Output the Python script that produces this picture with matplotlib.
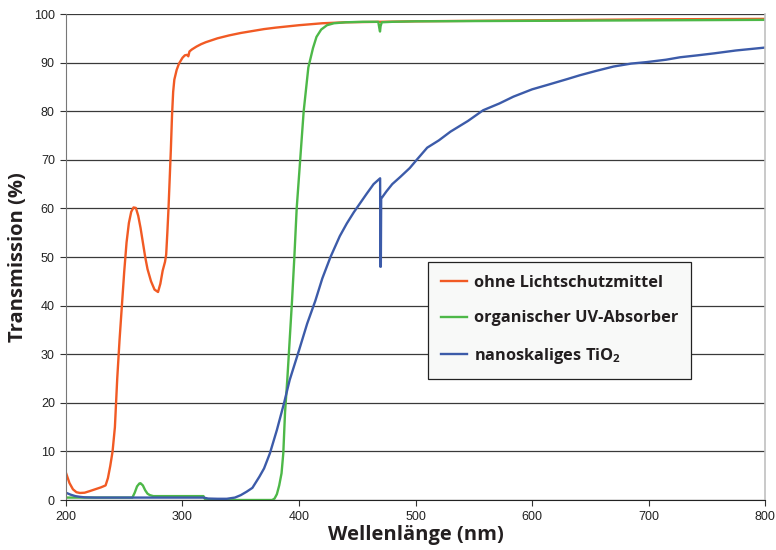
import matplotlib
matplotlib.use("Agg")
import matplotlib.pyplot as plt

# wavelengths (nm) and transmission (%)
wl_orange = [200, 203, 206, 209, 212, 216, 220, 225, 230, 234, 236, 238, 240, 242, 243, 244,
             246, 248, 250, 252, 254, 256, 258, 260, 262, 264, 266, 268, 270, 273, 276, 279,
             281, 283, 285, 286, 287, 288, 289, 290, 291, 292, 293, 295, 297, 300, 302, 304,
             305, 306, 308, 312, 316, 320, 330, 340, 350, 360, 370, 380, 400, 420, 440, 470,
             500, 550, 600, 700, 800]
t_orange = [5.6, 3.5, 2.2, 1.6, 1.45, 1.5, 1.8, 2.2, 2.6, 3.0, 4.5, 7, 10, 15, 20, 25,
            33, 40, 47, 53, 57, 59.3, 60.2, 60.1, 58.5, 56, 53, 50, 47.5, 45, 43.3, 42.8,
            44.5, 47.2, 49, 50.5, 55, 60, 66, 72, 79, 84, 86.5, 88.5, 89.8, 91, 91.5, 91.6,
            91.3, 92.3, 92.7, 93.3, 93.8, 94.2, 95, 95.6, 96.1, 96.5, 96.9, 97.2, 97.7, 98.1,
            98.3, 98.4, 98.5, 98.6, 98.7, 98.9, 99.0]

wl_green = [200, 257, 259, 261, 263, 264, 266, 268, 270, 272, 275, 300, 318, 319, 320, 377,
            379, 381, 383, 385, 386.5, 388, 390, 392, 394, 396, 398, 401, 404, 408, 412, 415,
            419, 424, 430, 440, 455, 468, 469, 469.5, 470, 471, 480, 500, 600, 700, 800]
t_green = [0.5, 0.5, 1.5, 2.8, 3.4, 3.45, 3.0, 2.0, 1.3, 1.0, 0.8, 0.8, 0.8, 0.3, 0, 0,
           0.3, 1.2, 3, 5.5, 9.6, 18, 25, 33, 41, 50, 60, 70, 80, 89, 93, 95.3,
           96.8, 97.7, 98.1, 98.3, 98.4, 98.4, 97.0, 96.4, 97.5, 98.3, 98.4, 98.5, 98.6, 98.7, 98.8]

wl_blue = [200, 204, 208, 212, 216, 225, 250, 280, 300, 318, 322, 330, 338, 345, 350, 355,
           360, 366, 370, 375, 381, 387, 392, 400, 407, 414, 420, 427, 435, 441, 447, 458, 464,
           469.6, 469.8, 470.2, 470.5, 475, 480, 487, 495, 501, 510, 520, 530, 545, 558, 572,
           584, 600, 613, 630, 641, 655, 670, 685, 698, 715, 727, 742, 756, 775, 800]
t_blue = [1.5, 1.1, 0.8, 0.65, 0.55, 0.5, 0.5, 0.5, 0.5, 0.5, 0.3, 0.25, 0.25, 0.5, 1, 1.7,
          2.5, 4.8, 6.5, 9.6, 14.4, 19.8, 24.7, 30.8, 36.3, 41, 45.6, 50, 54.3, 56.9, 59.2, 63, 65,
          66.2, 48, 48, 62.0, 63.5, 65, 66.5, 68.3, 70, 72.5, 74, 75.8, 78, 80.2, 81.6,
          83, 84.5, 85.4, 86.6, 87.4, 88.3, 89.2, 89.8, 90.1, 90.6, 91.1, 91.5, 91.9, 92.5, 93.1]

labels = ["ohne Lichtschutzmittel", "organischer UV-Absorber", r"nanoskaliges TiO$_\mathbf{2}$"]
colors = ["#f15a24", "#4db848", "#3c5ba9"]

plt.rcParams["mathtext.fontset"] = "custom"
plt.rcParams["mathtext.bf"] = "Open Sans:bold"
plt.rcParams["mathtext.rm"] = "Open Sans"

fig = plt.figure(figsize=(7.76, 5.5), dpi=100)
ax = fig.add_axes([0.085, 0.0909, 0.901, 0.8836])

ax.plot(wl_orange, t_orange, color=colors[0], lw=1.7, label=labels[0])
ax.plot(wl_green, t_green, color=colors[1], lw=1.7, label=labels[1])
ax.plot(wl_blue, t_blue, color=colors[2], lw=1.7, label=labels[2])

ax.set_xlim(200, 800)
ax.set_ylim(0, 100)
ax.set_xticks(range(200, 801, 100))
ax.set_yticks(range(0, 101, 10))
ax.yaxis.grid(True, color="#3a3a3a", lw=0.9)
ax.set_axisbelow(True)

for lab in ax.get_xticklabels() + ax.get_yticklabels():
    lab.set_fontfamily("Liberation Sans")
    lab.set_fontsize(9)
    lab.set_color("#222222")
ax.tick_params(axis="both", direction="out", length=4, width=0.8, color="#333333", pad=4)

ax.spines["top"].set_visible(False)
ax.spines["right"].set_color("#c0c0c0")
ax.spines["right"].set_linewidth(1.2)
ax.spines["left"].set_color("#777777")
ax.spines["bottom"].set_color("#222222")

ax.set_xlabel("Wellenlänge (nm)", fontfamily="Open Sans", fontweight="bold",
              fontsize=14.5, color="#231f20", labelpad=1.5)
ax.set_ylabel("Transmission (%)", fontfamily="Open Sans", fontweight="bold",
              fontsize=14.5, color="#231f20", labelpad=4)

leg = ax.legend(loc="upper left", bbox_to_anchor=(0.518, 0.49), frameon=True,
                fancybox=False, edgecolor="#222222", facecolor="#f8f9f8", framealpha=1,
                prop={"family": "Open Sans", "weight": "bold", "size": 11.8},
                handlelength=1.6, handletextpad=0.4, labelspacing=1.2,
                borderpad=0.78, borderaxespad=0)
leg.get_frame().set_linewidth(0.9)
for txt in leg.get_texts():
    txt.set_color("#231f20")

fig.savefig("out.png", dpi=100)
